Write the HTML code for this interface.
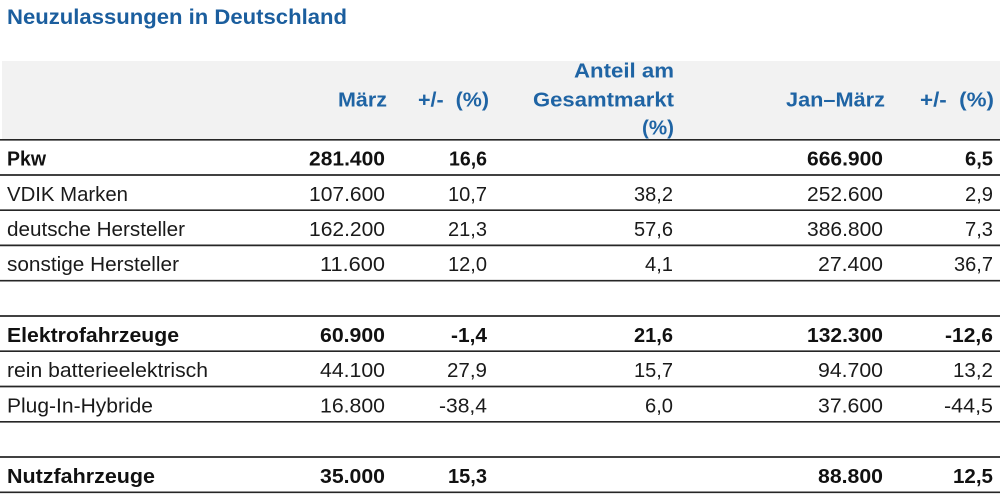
<!DOCTYPE html>
<html>
<head>
<meta charset="utf-8">
<style>
  html, body { margin: 0; padding: 0; background: #ffffff; }
  body { width: 1000px; height: 494px; overflow: hidden; }
  svg { display: block; }
  .t { font-family: "Liberation Sans", Arial, sans-serif; font-weight: bold; fill: #1b5e9e; font-size: 21px; }
  .h { font-family: "Liberation Sans", Arial, sans-serif; font-weight: bold; fill: #1f64a4; font-size: 20px; }
  .r { font-family: "Liberation Sans", Arial, sans-serif; fill: #1a1a1a; font-size: 20px; }
  .b { font-family: "Liberation Sans", Arial, sans-serif; font-weight: bold; fill: #111111; font-size: 20px; }
  .e { text-anchor: end; }
</style>
</head>
<body>
<svg width="1000" height="494" viewBox="0 0 1000 494" xmlns="http://www.w3.org/2000/svg">
  <rect x="0" y="0" width="1000" height="494" fill="#ffffff"/>
  <!-- Title -->
  <text class="t" x="7" y="24" textLength="340" lengthAdjust="spacingAndGlyphs">Neuzulassungen in Deutschland</text>

  <!-- Header background -->
  <rect x="2" y="61" width="998" height="78" fill="#f2f2f2"/>

  <!-- Header text -->
  <text class="h e" x="387" y="106.5" textLength="49" lengthAdjust="spacingAndGlyphs">März</text>
  <text class="h e" x="489" y="106.5" textLength="71" lengthAdjust="spacingAndGlyphs" xml:space="preserve">+/-  (%)</text>
  <text class="h e" x="674" y="77.5" textLength="100" lengthAdjust="spacingAndGlyphs">Anteil am</text>
  <text class="h e" x="674" y="106.5" textLength="141" lengthAdjust="spacingAndGlyphs">Gesamtmarkt</text>
  <text class="h e" x="674" y="134.5" textLength="32" lengthAdjust="spacingAndGlyphs">(%)</text>
  <text class="h e" x="885" y="106.5" textLength="99" lengthAdjust="spacingAndGlyphs">Jan–März</text>
  <text class="h e" x="994" y="106.5" textLength="74" lengthAdjust="spacingAndGlyphs" xml:space="preserve">+/-  (%)</text>

  <!-- Lines -->
  <g stroke="#262626" stroke-width="1.7">
    <line x1="0" y1="139.8" x2="1000" y2="139.8"/>
    <line x1="0" y1="175" x2="1000" y2="175"/>
    <line x1="0" y1="210.2" x2="1000" y2="210.2"/>
    <line x1="0" y1="245.4" x2="1000" y2="245.4"/>
    <line x1="0" y1="280.7" x2="1000" y2="280.7"/>
    <line x1="0" y1="316" x2="1000" y2="316"/>
    <line x1="0" y1="351.2" x2="1000" y2="351.2"/>
    <line x1="0" y1="386.5" x2="1000" y2="386.5"/>
    <line x1="0" y1="421.8" x2="1000" y2="421.8"/>
    <line x1="0" y1="457" x2="1000" y2="457"/>
    <line x1="0" y1="492.3" x2="1000" y2="492.3"/>
  </g>

  <!-- Row: Pkw -->
  <text class="b" x="7" y="165.5" textLength="39" lengthAdjust="spacingAndGlyphs">Pkw</text>
  <text class="b e" x="385" y="165.5" textLength="76" lengthAdjust="spacingAndGlyphs">281.400</text>
  <text class="b e" x="487" y="165.5" textLength="38" lengthAdjust="spacingAndGlyphs">16,6</text>
  <text class="b e" x="883" y="165.5" textLength="76" lengthAdjust="spacingAndGlyphs">666.900</text>
  <text class="b e" x="993" y="165.5" textLength="28" lengthAdjust="spacingAndGlyphs">6,5</text>

  <!-- Row: VDIK Marken -->
  <text class="r" x="7" y="201" textLength="121" lengthAdjust="spacingAndGlyphs">VDIK Marken</text>
  <text class="r e" x="385" y="201" textLength="76" lengthAdjust="spacingAndGlyphs">107.600</text>
  <text class="r e" x="487" y="201" textLength="39" lengthAdjust="spacingAndGlyphs">10,7</text>
  <text class="r e" x="673" y="201" textLength="39" lengthAdjust="spacingAndGlyphs">38,2</text>
  <text class="r e" x="883" y="201" textLength="76" lengthAdjust="spacingAndGlyphs">252.600</text>
  <text class="r e" x="993" y="201" textLength="28" lengthAdjust="spacingAndGlyphs">2,9</text>

  <!-- Row: deutsche Hersteller -->
  <text class="r" x="7" y="236" textLength="178" lengthAdjust="spacingAndGlyphs">deutsche Hersteller</text>
  <text class="r e" x="385" y="236" textLength="76" lengthAdjust="spacingAndGlyphs">162.200</text>
  <text class="r e" x="487" y="236" textLength="39" lengthAdjust="spacingAndGlyphs">21,3</text>
  <text class="r e" x="673" y="236" textLength="39" lengthAdjust="spacingAndGlyphs">57,6</text>
  <text class="r e" x="883" y="236" textLength="76" lengthAdjust="spacingAndGlyphs">386.800</text>
  <text class="r e" x="993" y="236" textLength="28" lengthAdjust="spacingAndGlyphs">7,3</text>

  <!-- Row: sonstige Hersteller -->
  <text class="r" x="7" y="271" textLength="172" lengthAdjust="spacingAndGlyphs">sonstige Hersteller</text>
  <text class="r e" x="385" y="271" textLength="65" lengthAdjust="spacingAndGlyphs">11.600</text>
  <text class="r e" x="487" y="271" textLength="39" lengthAdjust="spacingAndGlyphs">12,0</text>
  <text class="r e" x="673" y="271" textLength="28" lengthAdjust="spacingAndGlyphs">4,1</text>
  <text class="r e" x="883" y="271" textLength="65" lengthAdjust="spacingAndGlyphs">27.400</text>
  <text class="r e" x="993" y="271" textLength="39" lengthAdjust="spacingAndGlyphs">36,7</text>

  <!-- Row: Elektrofahrzeuge -->
  <text class="b" x="7" y="342" textLength="172" lengthAdjust="spacingAndGlyphs">Elektrofahrzeuge</text>
  <text class="b e" x="385" y="342" textLength="65" lengthAdjust="spacingAndGlyphs">60.900</text>
  <text class="b e" x="487" y="342" textLength="36" lengthAdjust="spacingAndGlyphs">-1,4</text>
  <text class="b e" x="673" y="342" textLength="39" lengthAdjust="spacingAndGlyphs">21,6</text>
  <text class="b e" x="883" y="342" textLength="76" lengthAdjust="spacingAndGlyphs">132.300</text>
  <text class="b e" x="993" y="342" textLength="48" lengthAdjust="spacingAndGlyphs">-12,6</text>

  <!-- Row: rein batterieelektrisch -->
  <text class="r" x="7" y="377" textLength="201" lengthAdjust="spacingAndGlyphs">rein batterieelektrisch</text>
  <text class="r e" x="385" y="377" textLength="65" lengthAdjust="spacingAndGlyphs">44.100</text>
  <text class="r e" x="487" y="377" textLength="40" lengthAdjust="spacingAndGlyphs">27,9</text>
  <text class="r e" x="673" y="377" textLength="39" lengthAdjust="spacingAndGlyphs">15,7</text>
  <text class="r e" x="883" y="377" textLength="65" lengthAdjust="spacingAndGlyphs">94.700</text>
  <text class="r e" x="993" y="377" textLength="40" lengthAdjust="spacingAndGlyphs">13,2</text>

  <!-- Row: Plug-In-Hybride -->
  <text class="r" x="7" y="412.5" textLength="146" lengthAdjust="spacingAndGlyphs">Plug-In-Hybride</text>
  <text class="r e" x="385" y="412.5" textLength="65" lengthAdjust="spacingAndGlyphs">16.800</text>
  <text class="r e" x="487" y="412.5" textLength="48" lengthAdjust="spacingAndGlyphs">-38,4</text>
  <text class="r e" x="673" y="412.5" textLength="28" lengthAdjust="spacingAndGlyphs">6,0</text>
  <text class="r e" x="883" y="412.5" textLength="65" lengthAdjust="spacingAndGlyphs">37.600</text>
  <text class="r e" x="993" y="412.5" textLength="49" lengthAdjust="spacingAndGlyphs">-44,5</text>

  <!-- Row: Nutzfahrzeuge -->
  <text class="b" x="7" y="483" textLength="148" lengthAdjust="spacingAndGlyphs">Nutzfahrzeuge</text>
  <text class="b e" x="385" y="483" textLength="65" lengthAdjust="spacingAndGlyphs">35.000</text>
  <text class="b e" x="487" y="483" textLength="39" lengthAdjust="spacingAndGlyphs">15,3</text>
  <text class="b e" x="883" y="483" textLength="65" lengthAdjust="spacingAndGlyphs">88.800</text>
  <text class="b e" x="993" y="483" textLength="40" lengthAdjust="spacingAndGlyphs">12,5</text>
</svg>
</body>
</html>
